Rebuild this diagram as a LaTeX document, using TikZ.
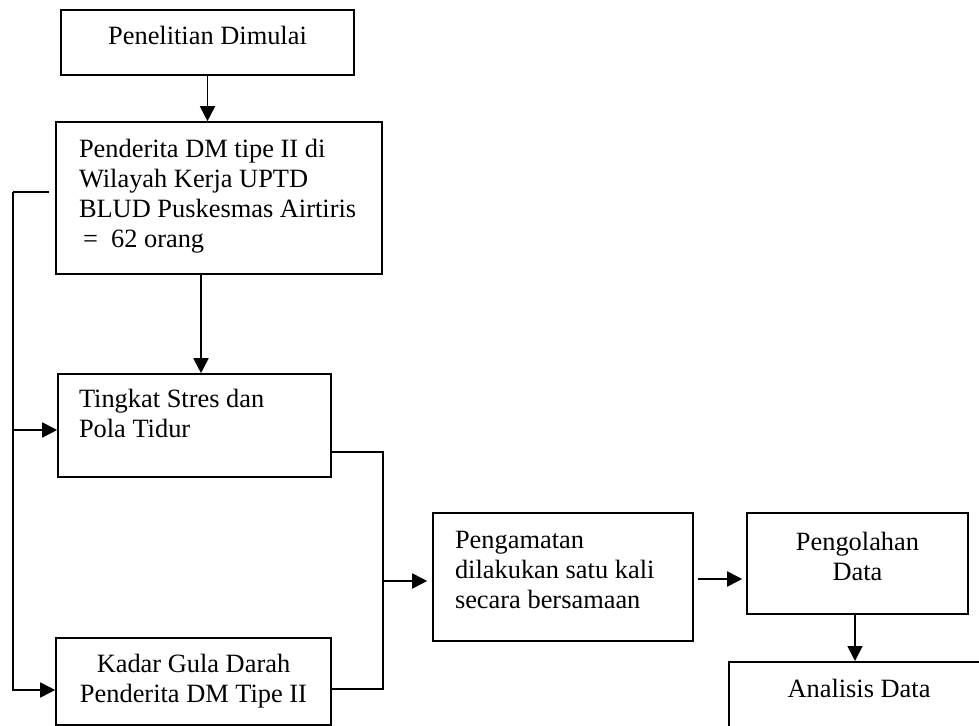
\documentclass[tikz,border=0pt]{standalone}
\usepackage{fontspec}
\setmainfont{Liberation Serif}
\usetikzlibrary{arrows.meta}
\tikzset{
  kotak/.style={draw, line width=0.8pt, inner sep=0pt, font=\fontsize{13.2pt}{15pt}\selectfont},
  kiri/.style={kotak, align=flush left},
  tengah/.style={kotak, align=flush center},
  panah/.style={line width=0.9pt, -{Triangle[length=7.5pt,width=7.5pt]}},
  garis/.style={line width=0.9pt}
}

\begin{document}
\begin{tikzpicture}[x=0.5pt, y=-0.5pt]
  \useasboundingbox (0,0) rectangle (979,726);
  \clip (0,0) rectangle (979,726);
  \node[tengah, text width=146.5pt, text height=17.5pt, text depth=15pt] (mulai) at (207.5,42.5) {Penelitian Dimulai};
  \node[kiri, text width=140pt, inner xsep=11.5pt, text height=18pt, text depth=58pt] (subjek) at (219,198)
    {Penderita DM tipe II di\\Wilayah Kerja UPTD\\BLUD Puskesmas Airtiris\\\hspace*{2pt}=\ \ 62 orang};
  \node[kiri, text width=115.5pt, inner xsep=10.5pt, text height=17pt, text depth=34.5pt] (stres) at (194.5,425.5)
    {Tingkat Stres dan\\Pola Tidur};
  \node[tengah, text width=137.5pt, text height=17pt, text depth=26.5pt] (gula) at (193.5,681.5)
    {Kadar Gula Darah\\Penderita DM Tipe II};
  \node[kiri, text width=108pt, inner xsep=11pt, text height=17.5pt, text depth=46.5pt] (amati) at (563,577)
    {Pengamatan\\dilakukan satu kali\\secara bersamaan};
  \node[tengah, text width=110.5pt, text height=18.5pt, text depth=32pt] (olah) at (857.5,563.5)
    {Pengolahan\\Data};
  \node[tengah, anchor=north, text width=130pt, text height=18pt, text depth=30pt] (analisis) at (859,661)
    {Analisis Data};

  \coordinate (cabang) at (13,192);
  \coordinate (gabung) at (383,581);

  \draw[panah] (mulai.south) -- (mulai.south |- subjek.north);
  \draw[panah] ([xshift=-9pt]subjek.south) -- ([xshift=-9pt]subjek.south |- stres.north);
  \draw[garis] ([xshift=-3pt,yshift=3pt]subjek.west) -- (cabang);
  \draw[panah] (cabang) |- ([yshift=-4.25pt]gula.west);
  \draw[panah] ([yshift=-2.25pt]stres.west -| cabang) -- ([yshift=-2.25pt]stres.west);
  \draw[garis] ([yshift=-13.25pt]stres.east) -| (gabung) |- ([yshift=-3.75pt]gula.east);
  \draw[panah, shorten >=2.5pt] (gabung) -- (gabung -| amati.west);
  \draw[panah, shorten <=2pt, shorten >=2pt] ([yshift=-1pt]amati.east) -- ([yshift=-1pt]amati.east -| olah.west);
  \draw[panah] ([xshift=-1.25pt]olah.south) -- ([xshift=-1.25pt]olah.south |- analisis.north);
\end{tikzpicture}
\end{document}
